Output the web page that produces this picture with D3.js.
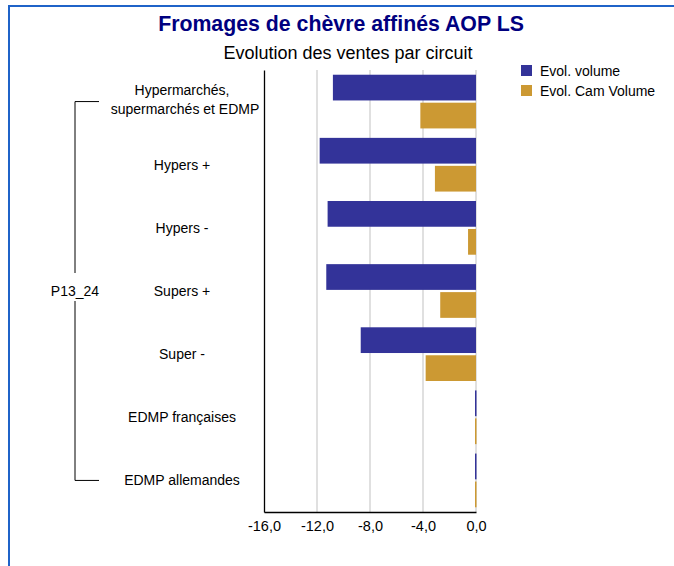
<!DOCTYPE html>
<html>
<head>
<meta charset="utf-8">
<script src="https://cdn.jsdelivr.net/npm/d3@7"></script>
<style>
  html, body { margin: 0; padding: 0; background: #fff; }
  svg { display: block; font-family: "Liberation Sans", Arial, sans-serif; }
</style>
</head>
<body>
<svg id="chart" width="674" height="566"></svg>
<script>
// ---- data ----
const categories = ["Hypermarchés,\nsupermarchés et EDMP", "Hypers +", "Hypers -", "Supers +", "Super -", "EDMP françaises", "EDMP allemandes"];
const evolVolume    = [-10.8, -11.8, -11.2, -11.3, -8.7, -0.05, -0.05];
const evolCamVolume = [-4.2, -3.1, -0.6, -2.7, -3.8, -0.05, -0.05];
const seriesNames = ["Evol. volume", "Evol. Cam Volume"];
const seriesColors = ["#333399", "#CC9933"];
const xTicks = [-16, -12, -8, -4, 0];
const groupLabel = "P13_24";
const titleText = "Fromages de chèvre affinés AOP LS";
const subtitleText = "Evolution des ventes par circuit";

const svg = d3.select("#chart");

// border
svg.append("path")
  .attr("d", "M9,566 V6 H674")
  .attr("fill", "none")
  .attr("stroke", "#1f63c8")
  .attr("stroke-width", 2);

// titles
svg.append("text").attr("x", 341).attr("y", 31)
  .attr("text-anchor", "middle").attr("font-size", 21.3).attr("font-weight", "bold")
  .attr("fill", "#00007f").text(titleText);
svg.append("text").attr("x", 348).attr("y", 59)
  .attr("text-anchor", "middle").attr("font-size", 18)
  .attr("fill", "#000").text(subtitleText);

// scales
const plot = { left: 264, right: 476, top: 70, bottom: 512 };
const x = d3.scaleLinear().domain([-16, 0]).range([plot.left, plot.right]);
const y0 = d3.scaleBand().domain(categories).range([plot.top, plot.bottom])
  .paddingInner(0.1495).paddingOuter(0.0748);
const y1 = d3.scaleBand().domain(seriesNames).range([0, y0.bandwidth()]).paddingInner(0.08);

// gridlines
svg.append("g").selectAll("line")
  .data(xTicks.filter(d => d !== -16))
  .join("line")
  .attr("x1", d => x(d)).attr("x2", d => x(d))
  .attr("y1", plot.top).attr("y2", plot.bottom)
  .attr("stroke", "#cfcfcf").attr("stroke-width", 1.3);

// bars
const rows = categories.map((c, i) => ({ cat: c, vals: [evolVolume[i], evolCamVolume[i]] }));
const g = svg.append("g");
rows.forEach(r => {
  r.vals.forEach((v, j) => {
    const w = Math.abs(x(v) - x(0));
    const left = w < 2 ? Math.round(x(0)) - 1 : x(Math.min(0, v));
    g.append("rect")
      .attr("x", left)
      .attr("width", Math.max(1.5, w))
      .attr("y", y0(r.cat) + y1(seriesNames[j]))
      .attr("height", y1.bandwidth())
      .attr("fill", seriesColors[j]);
  });
});

// x axis
const fmt = v => v.toFixed(1).replace(".", ",").replace("-0,0", "0,0");
const xAxis = svg.append("g").attr("transform", `translate(0,${plot.bottom})`)
  .call(d3.axisBottom(x).tickValues(xTicks).tickFormat(fmt).tickSize(0).tickSizeOuter(0).tickPadding(9));
xAxis.select(".domain").attr("stroke", "#000").attr("stroke-width", 1.3);
xAxis.selectAll("text").attr("font-size", 14.5).attr("font-family", "Liberation Sans, Arial, sans-serif").attr("fill", "#000");

// y axis line
const yAxis = svg.append("g").attr("transform", `translate(${plot.left},0)`)
  .call(d3.axisLeft(y0).tickValues([]).tickSizeOuter(0));
yAxis.select(".domain").attr("stroke", "#000").attr("stroke-width", 1.3);

// category labels
const labelX = 182;
categories.forEach(c => {
  const cy = y0(c) + y0.bandwidth() / 2;
  const lines = c.split("\n");
  const t = svg.append("text").attr("text-anchor", "middle").attr("font-size", 14).attr("fill", "#000");
  if (lines.length === 1) {
    t.append("tspan").attr("x", labelX).attr("y", cy + 5).text(lines[0]);
  } else {
    t.append("tspan").attr("x", labelX).attr("y", cy - 7).text(lines[0]);
    t.append("tspan").attr("x", labelX + 3).attr("y", cy + 12).text(lines[1]);
  }
});

// group bracket
const yTop = y0(categories[0]) + y0.bandwidth() / 2;
const yBot = y0(categories[categories.length - 1]) + y0.bandwidth() / 2;
const yMid = (yTop + yBot) / 2;
svg.append("path")
  .attr("d", `M99,${yTop} H75 V${yMid - 18} M75,${yMid + 10} V${yBot} H99`)
  .attr("fill", "none").attr("stroke", "#000").attr("stroke-width", 1);
svg.append("text").attr("x", 75).attr("y", yMid + 5)
  .attr("text-anchor", "middle").attr("font-size", 14).attr("fill", "#000").text(groupLabel);

// legend
const legend = svg.append("g");
seriesNames.forEach((s, i) => {
  legend.append("rect").attr("x", 521).attr("y", 65 + i * 20).attr("width", 11).attr("height", 11).attr("fill", seriesColors[i]);
  legend.append("text").attr("x", 540).attr("y", 75.5 + i * 20).attr("font-size", 14).attr("fill", "#000").text(s);
});
</script>
</body>
</html>
